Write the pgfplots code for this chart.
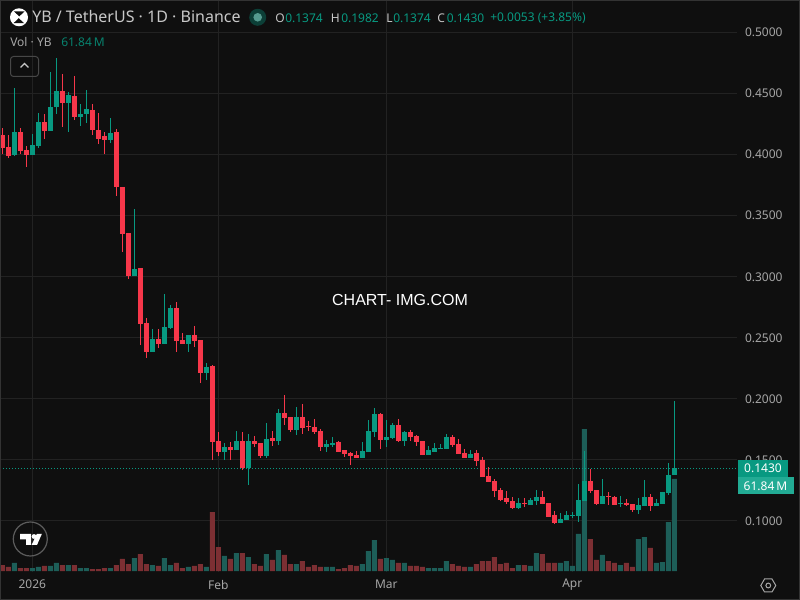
\documentclass[border=0pt]{standalone}
\usepackage{pgfplots}
\usepackage{pgfplotstable}
\usepackage{fontspec}
\pgfplotsset{compat=1.18}
\setmainfont{Noto Sans}
\newfontfamily\wm{Liberation Sans}
\definecolor{bg}{HTML}{0F0F0F}
\definecolor{gridc}{HTML}{222222}
\definecolor{framec}{HTML}{333333}
\definecolor{up}{HTML}{089981}
\definecolor{down}{HTML}{F7374A}
\definecolor{volup}{HTML}{1D5E58}
\definecolor{voldown}{HTML}{7C2F33}
\definecolor{txt}{HTML}{A6A6A6}
\definecolor{hdr}{HTML}{C8C8C8}
\definecolor{tag}{HTML}{22AB94}
\pgfplotstableread{
d o c h l
-5 .4157 .4053 .4212 .4002
-4 .4059 .3988 .4157 .3972
-2 .4182 .4026 .4212 .4002
-1 .4034 .3993 .4067 .3898
2 .4263 .4190 .4329 .4124
5 .4517 .4419 .4656 .4223
7 .4476 .4304 .4640 .4280
10 .4362 .4198 .4411 .4157
11 .4198 .4124 .4337 .4083
12 .4149 .4117 .4182 .4002
14 .4182 .3732 .4206 .3658
15 .3732 .3347 .3732 .3199
16 .3355 .3003 .3355 .2979
18 .3069 .2610 .3069 .2438
19 .2618 .2381 .2659 .2332
21 .2488 .2447 .2569 .2414
24 .2741 .2471 .2790 .2381
25 .2479 .2447 .2537 .2447
27 .2520 .2471 .2594 .2422
28 .2479 .2209 .2479 .2130
30 .2267 .1645 .2275 .1497
31 .1653 .1563 .1726 .1530
33 .1604 .1579 .1645 .1497
35 .1653 .1432 .1726 .1415
37 .1653 .1628 .1694 .1604
38 .1636 .1530 .1636 .1514
40 .1677 .1653 .1735 .1612
42 .1882 .1841 .2029 .1784
43 .1849 .1743 .1849 .1726
45 .1849 .1759 .1956 .1710
46 .1775 .1770 .1816 .1735
47 .1767 .1726 .1833 .1710
48 .1735 .1604 .1751 .1571
51 .1645 .1563 .1653 .1563
52 .1579 .1546 .1579 .1522
53 .1555 .1530 .1563 .1456
54 .1538 .1514 .1571 .1514
58 .1874 .1661 .1882 .1588
61 .1784 .1653 .1833 .1645
63 .1727 .1686 .1743 .1653
64 .1694 .1645 .1702 .1612
65 .1653 .1538 .1653 .1538
70 .1686 .1620 .1702 .1604
71 .1628 .1547 .1670 .1547
72 .1555 .1514 .1588 .1514
74 .1555 .1490 .1579 .1449
75 .1497 .1358 .1522 .1358
76 .1366 .1317 .1440 .1317
77 .1325 .1243 .1342 .1194
78 .1251 .1170 .1268 .1162
79 .1186 .1153 .1243 .1137
80 .1162 .1104 .1194 .1096
82 .1145 .1137 .1186 .1112
85 .1195 .1137 .1244 .1137
86 .1146 .1031 .1146 .1031
87 .1048 .0982 .1080 .0974
93 .1326 .1244 .1424 .1228
94 .1252 .1137 .1252 .1129
96 .1203 .1198 .1236 .1129
97 .1195 .1129 .1203 .1129
99 .1146 .1129 .1178 .1121
100 .1137 .1088 .1137 .1072
103 .1195 .1121 .1219 .1080
}\redcandles
\pgfplotstableread{
d o c h l
-3 .3993 .4182 .4542 .3988
0 .3993 .4075 .4165 .3993
1 .4067 .4263 .4337 .4051
3 .4190 .4386 .4673 .4190
4 .4386 .4517 .4787 .4329
6 .4419 .4484 .4509 .4182
8 .4304 .4329 .4411 .4231
9 .4329 .4370 .4525 .4255
13 .4117 .4174 .4296 .4092
17 .3003 .3060 .3551 .3003
20 .2381 .2488 .2569 .2381
22 .2447 .2586 .2856 .2447
23 .2578 .2741 .2766 .2569
26 .2447 .2520 .2520 .2381
29 .2209 .2258 .2291 .2150
32 .1563 .1604 .1636 .1497
34 .1579 .1653 .1735 .1579
36 .1432 .1653 .1710 .1293
39 .1530 .1669 .1800 .1514
41 .1653 .1882 .1915 .1620
44 .1743 .1849 .1931 .1702
49 .1604 .1628 .1661 .1563
50 .1620 .1636 .1685 .1604
55 .1514 .1571 .1645 .1514
56 .1563 .1735 .1825 .1563
57 .1727 .1874 .1923 .1686
59 .1661 .1686 .1825 .1604
60 .1678 .1784 .1800 .1670
62 .1653 .1727 .1735 .1612
66 .1538 .1579 .1612 .1538
67 .1563 .1596 .1636 .1563
68 .1588 .1596 .1628 .1588
69 .1588 .1686 .1710 .1588
73 .1514 .1547 .1579 .1514
81 .1104 .1145 .1186 .1096
83 .1129 .1170 .1186 .1129
84 .1162 .1194 .1251 .1129
88 .0982 .1015 .1064 .0982
89 .1007 .1048 .1080 .1007
90 .1042 .1048 .1072 .1023
91 .1039 .1170 .1301 .0990
92 .1162 .1326 .1571 .1162
95 .1137 .1203 .1342 .1137
98 .1143 .1148 .1203 .1113
101 .1088 .1129 .1186 .1056
102 .1121 .1195 .1334 .1121
104 .1121 .1146 .1178 .1121
105 .1137 .1236 .1236 .1137
106 .1228 .1375 .1473 .1211
107 .1374 .1430 .1982 .1374
}\greencandles
\pgfplotstableread{
d v
-5 4.0
-4 2.7
-2 2.0
-1 2.0
2 3.4
5 4.0
7 4.0
10 1.3
11 1.3
12 2.0
14 4.0
15 8.1
16 4.7
18 11.4
19 4.7
21 3.4
24 5.4
25 2.0
27 3.4
28 4.7
30 39.6
31 16.1
33 8.1
35 12.1
37 4.7
38 3.4
40 7.4
42 10.8
43 4.7
45 6.7
46 2.7
47 4.0
48 2.7
51 1.3
52 2.0
53 4.0
54 3.4
58 8.1
61 5.4
63 3.4
64 3.4
65 2.7
70 4.7
71 3.4
72 2.7
74 4.7
75 6.7
76 6.7
77 9.4
78 4.7
79 5.4
80 2.0
82 4.0
85 11.4
86 5.4
87 5.4
93 21.5
94 7.4
96 6.7
97 5.4
99 5.4
100 2.7
103 15.5
}\redvol
\pgfplotstableread{
d v
-3 5.4
0 2.0
1 2.7
3 3.4
4 5.4
6 4.0
8 2.0
9 2.0
13 2.0
17 8.7
20 4.0
22 8.7
23 4.0
26 2.7
29 2.7
32 10.1
34 12.1
36 9.4
39 11.4
41 14.1
44 4.7
49 2.7
50 2.7
55 4.7
56 13.4
57 20.8
59 8.7
60 7.4
62 5.4
66 2.0
67 2.0
68 2.0
69 6.7
73 2.7
81 4.0
83 3.4
84 12.1
88 5.4
89 6.7
90 3.4
91 24.9
92 95.4
95 10.8
98 4.0
101 21.5
102 22.8
104 5.4
105 6.0
106 32.9
107 61.84
}\greenvol
\pgfplotsset{
 pane/.style={scale only axis,width=552.75pt,height=429pt,at={(0pt,21pt)},anchor=south west,
   xmin=-5.383,xmax=117.45},
 price/.style={pane,ymin=0.0581,ymax=0.5262},
}
\newcommand{\candles}[2]{%
 \addplot[draw=none,no markers,forget plot,error bars/.cd,y dir=both,y explicit,error mark=none,
   error bar style={draw=#2,line width=0.75pt}]
   table[x=d,y=c,y error plus expr=\thisrow{h}-\thisrow{c},y error minus expr=\thisrow{c}-\thisrow{l}]{#1};
 \addplot[draw=none,no markers,forget plot,error bars/.cd,y dir=plus,y explicit,error mark=none,
   error bar style={draw=#2,line width=3.75pt}]
   table[x=d,y=o,y error plus expr=abs(\thisrow{c}-\thisrow{o})*(\thisrow{c}>\thisrow{o})-abs(\thisrow{c}-\thisrow{o})*(\thisrow{c}<\thisrow{o}),y error minus expr=0]{#1};
}
\newcommand{\fs}[1]{\fontsize{#1}{#1}\selectfont}
\begin{document}
\begin{tikzpicture}
\path[use as bounding box] (0,0) rectangle (600pt,450pt);
\fill[bg] (0,0) rectangle (600pt,450pt);
% grid and labels
\begin{axis}[price,
  axis line style={draw=none},
  major tick length=0pt,
  xtick={0,31,59,90},
  xticklabels={\textbf{2026},Feb,Mar,Apr},
  ytick={0.1,0.15,0.2,0.25,0.3,0.35,0.4,0.45,0.5},
  yticklabel pos=right,
  grid=major,
  grid style={gridc,line width=0.75pt},
  /pgf/number format/fixed,
  /pgf/number format/fixed zerofill,
  /pgf/number format/precision=4,
  /pgf/number format/assume math mode=true,
  tick label style={text=txt,font=\fs{9}},
  y tick label style={anchor=west,xshift=2.5pt,yshift=-0.3pt},
  x tick label style={anchor=center,yshift=-9.5pt},
]
\end{axis}
% volume
\begin{axis}[pane,hide axis,ymin=-0.67,ymax=383.8,ybar,bar width=3.75pt,bar shift=0pt]
\addplot[fill=voldown,draw=none] table[x=d,y=v]{\redvol};
\addplot[fill=volup,draw=none] table[x=d,y=v]{\greenvol};
\end{axis}
% candles
\begin{axis}[price,hide axis]
\addplot[up,line width=0.75pt,dash pattern=on 0.75pt off 1.5pt,forget plot] coordinates {(-5.383,0.143) (117.45,0.143)};
\candles{\redcandles}{down}
\candles{\greencandles}{up}
\end{axis}
\begin{scope}[x=0.75pt,y=-0.75pt,shift={(0pt,450pt)}]
 % frame
 \draw[framec,line width=0.75pt] (0.4,0.4) rectangle (799.6,599.6);
 % header
 \fill[white] (19,17.3) circle [radius=9];
 \fill[bg] (13.5,11.5) -- (24.5,11.5) -- (19,16.6) -- cycle;
 \fill[bg] (13.5,23.2) -- (24.5,23.2) -- (19,18) -- cycle;
 \draw[white,line width=0.9pt] (13,11.5) -- (25,23);
 \node[anchor=west,inner sep=0,text=hdr,font=\fs{12}] at (32,17) {YB / TetherUS · 1D · Binance};
 \fill[up!35!bg] (257.7,17.3) circle [radius=8.5];
 \fill[up!60!white!80!black] (257.7,17.3) circle [radius=4.3];
 \node[anchor=west,inner sep=0,text=hdr,font=\fs{9}] at (275,18) {O};
 \node[anchor=west,inner sep=0,text=up,font=\fs{9}] at (285,18) {0.1374};
 \node[anchor=west,inner sep=0,text=hdr,font=\fs{9}] at (330.5,18) {H};
 \node[anchor=west,inner sep=0,text=up,font=\fs{9}] at (341,18) {0.1982};
 \node[anchor=west,inner sep=0,text=hdr,font=\fs{9}] at (386,18) {L};
 \node[anchor=west,inner sep=0,text=up,font=\fs{9}] at (393,18) {0.1374};
 \node[anchor=west,inner sep=0,text=hdr,font=\fs{9}] at (437,18) {C};
 \node[anchor=west,inner sep=0,text=up,font=\fs{9}] at (446.5,18) {0.1430};
 \node[anchor=west,inner sep=0,text=up,font=\fs{9}] at (490,18) {+0.0053 (+3.85\%)};
 \node[anchor=west,inner sep=0,text=txt,font=\fs{9}] at (10,42) {Vol · YB};
 \node[anchor=west,inner sep=0,text=up!85!black,font=\fs{9}] at (61,42) {61.84\,M};
 % collapse button
 \draw[framec!90!white,line width=0.75pt,rounded corners=2.25pt] (10.5,56.5) rectangle (38.5,76.5);
 \draw[hdr,line width=0.9pt] (20.5,67.5) -- (24.5,63.5) -- (28.5,67.5);
 % watermark
 \node[inner sep=0,text=white,font=\wm\fs{12}] at (400,300) {CHART- IMG.COM};
 % logo
 \draw[framec!80!white,line width=0.9pt] (30.3,539) circle [radius=17];
 \fill[white] (20,534) -- (31,534) -- (31,545) -- (26,545) -- (26,539.5) -- (20,539.5) -- cycle;
 \fill[white] (34,536.5) circle [radius=2.4];
 \fill[white] (36.8,534) -- (41.8,534) -- (37,545) -- (31.6,545) -- cycle;
 % tags
 \fill[up] (738,460) rectangle (788,477);
 \node[inner sep=0,text=white,font=\fs{9}] at (763,468.5) {0.1430};
 \fill[tag] (738,477.5) rectangle (793.5,494);
 \node[inner sep=0,text=white,font=\fs{9}] at (765.5,486) {61.84\,M};
 % settings
 \draw[txt,line width=0.75pt] (760.8,585.5) -- (764.5,579) -- (772,579) -- (775.8,585.5) -- (772,592) -- (764.5,592) -- cycle;
 \draw[txt,line width=0.75pt] (768.3,585.5) circle [radius=2.4];
\end{scope}
\end{tikzpicture}
\end{document}
